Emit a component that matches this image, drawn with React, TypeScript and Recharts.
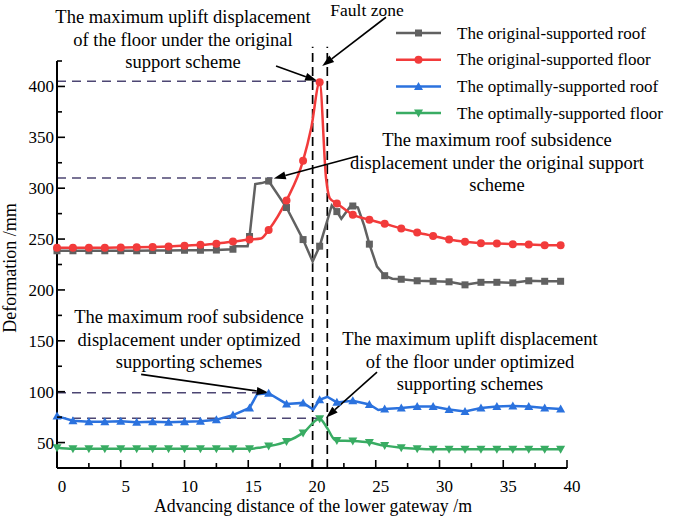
import React from 'react';
import { LineChart, Line, XAxis, YAxis, ReferenceLine } from 'recharts';

// ---------- data ----------
const markerX = [0, 1.25, 2.5, 3.75, 5, 6.25, 7.5, 8.75, 10, 11.25, 12.5, 13.8, 15.1, 16.6, 18.0, 19.3, 20.6, 21.95, 23.2, 24.5, 25.7, 27.0, 28.25, 29.5, 30.75, 32, 33.25, 34.5, 35.75, 37, 38.25, 39.5];

const origRoof = [238.5, 238.5, 238.5, 238.5, 238.5, 238.5, 238.7, 238.8, 239, 239, 239.2, 240, 252.5, 307, 281, 249.5, 243, 277, 282.5, 245, 214, 210.5, 209, 208.5, 208, 205, 207.5, 207.5, 207, 209, 208.5, 208.5];
const origRoofExtraX = [13.85, 14.95, 15.55, 16.05, 20.05, 21.55, 22.3, 23.0, 23.6, 24.1, 25.1, 26.3];
const origRoofExtraY = [243, 243, 304, 305, 228, 283, 270, 282, 281, 263, 223, 211];

const origFloor = [241.5, 241.5, 241.5, 241.5, 241.7, 242, 242.3, 242.8, 243.5, 244.3, 245.5, 247.5, 249.5, 259, 288, 327, 404, 285, 274, 269, 265, 260.5, 256.5, 253, 249.6, 247.3, 246, 245.6, 245, 244.6, 244, 244];
const origFloorExtraX = [16.0, 19.95, 21.1, 21.4];
const origFloorExtraY = [250.5, 360, 310, 290];

const optRoof = [76, 71.5, 70.5, 70.5, 71, 70, 70.5, 70, 70.5, 71, 72.5, 77, 84, 98.5, 88, 89, 92, 89.5, 91, 87.5, 83, 84, 85.5, 85.5, 82.5, 80.5, 84, 85.5, 86, 85.5, 84, 83];
const optRoofExtraX = [15.7, 20.1, 21.2, 25.2];
const optRoofExtraY = [97.5, 82.5, 95, 82];

const optFloor = [45, 44, 44, 44, 44, 44, 44, 44, 44, 44, 44, 44, 44, 46.5, 51, 59.5, 73.5, 52, 51.5, 50, 47, 45, 44, 43.5, 43.5, 43.5, 43.5, 43.5, 43.5, 43.5, 43.5, 43.5];
const optFloorExtraX = [15.9, 21.2, 21.75];
const optFloorExtraY = [45, 64, 53];

const seriesNames = [
  'The original-supported roof',
  'The original-supported floor',
  'The optimally-supported roof',
  'The optimally-supported floor',
];

const xTicks = [0, 2.5, 5, 7.5, 10, 12.5, 15, 17.5, 20, 22.5, 25, 27.5, 30, 32.5, 35, 37.5, 40];
const yTicks = [25, 50, 75, 100, 125, 150, 175, 200, 225, 250, 275, 300, 325, 350, 375, 400, 425];

// ---------- helpers ----------
function buildSeries(vals: number[], ex: number[], ey: number[]) {
  const pts = markerX.map((x, i) => ({ x, y: vals[i], m: true }));
  ex.forEach((x, i) => pts.push({ x, y: ey[i], m: false }));
  pts.sort((a, b) => a.x - b.x);
  return pts;
}

const COLORS = ['#616161', '#f23b3b', '#2b72de', '#39ac63'];
const SHAPES = ['square', 'circle', 'triUp', 'triDown'];

function marker(shape: string, cx: number, cy: number, color: string, key?: any) {
  switch (shape) {
    case 'square':
      return <rect key={key} x={cx - 3.5} y={cy - 3.5} width={7} height={7} fill={color} />;
    case 'circle':
      return <circle key={key} cx={cx} cy={cy} r={4} fill={color} />;
    case 'triUp':
      return <polygon key={key} points={`${cx},${cy - 4.5} ${cx - 4.5},${cy + 3.5} ${cx + 4.5},${cy + 3.5}`} fill={color} />;
    default:
      return <polygon key={key} points={`${cx},${cy + 4.5} ${cx - 4.5},${cy - 3.5} ${cx + 4.5},${cy - 3.5}`} fill={color} />;
  }
}

const makeDot = (shape: string, color: string) => (props: any) => {
  const { cx, cy, payload, index } = props;
  if (!payload || !payload.m || cx == null || cy == null) return <g key={`e${index}`} />;
  return marker(shape, cx, cy, color, `d${index}`);
};

const FONT = '"Liberation Serif", "Times New Roman", serif';

const XTick = (props: any) => {
  const { x, y, payload } = props;
  const v = payload.value;
  const major = v % 5 === 0;
  return (
    <g>
      <line x1={x} y1={y} x2={x} y2={y - (major ? 8 : 5)} stroke="#000" strokeWidth={1.6} />
      {major && (
        <text x={x + 5} y={y + 24} textAnchor="middle" fontFamily={FONT} fontSize={17} fill="#000">
          {v}
        </text>
      )}
    </g>
  );
};

const YTick = (props: any) => {
  const { x, y, payload } = props;
  const v = payload.value;
  const major = v % 50 === 0;
  return (
    <g>
      <line x1={x} y1={y} x2={x + (major ? 8 : 5)} y2={y} stroke="#000" strokeWidth={1.6} />
      {major && (
        <text x={x - 3} y={y + 6} textAnchor="end" fontFamily={FONT} fontSize={17} fill="#000">
          {v}
        </text>
      )}
    </g>
  );
};

const Arrow = (props: any) => {
  const { x1, y1, x2, y2 } = props;
  if ([x1, y1, x2, y2].some((v) => v == null || isNaN(v))) return <g />;
  const a = Math.atan2(y2 - y1, x2 - x1);
  const L = 12;
  const W = 4;
  const bx = x2 - L * Math.cos(a);
  const by = y2 - L * Math.sin(a);
  const px = W * Math.sin(a);
  const py = -W * Math.cos(a);
  return (
    <g>
      <line x1={x1} y1={y1} x2={bx} y2={by} stroke="#000" strokeWidth={1.6} />
      <polygon points={`${x2},${y2} ${bx + px},${by + py} ${bx - px},${by - py}`} fill="#000" />
    </g>
  );
};

const series = [
  buildSeries(origRoof, origRoofExtraX, origRoofExtraY),
  buildSeries(origFloor, origFloorExtraX, origFloorExtraY),
  buildSeries(optRoof, optRoofExtraX, optRoofExtraY),
  buildSeries(optFloor, optFloorExtraX, optFloorExtraY),
];
const curveTypes: any[] = ['linear', 'monotone', 'linear', 'monotone'];

// annotation guides (data coordinates)
const hGuides = [
  { y: 405, x2: 21.2 },
  { y: 310, x2: 16.9 },
  { y: 99, x2: 16.7 },
  { y: 74, x2: 21.0 },
];
const faultX = [20.05, 21.2];
const arrows = [
  { x1: 17.18, y1: 420.1, x2: 20.4, y2: 405.5 },
  { x1: 25.8, y1: 468, x2: 20.8, y2: 420 },
  { x1: 23.6, y1: 331.6, x2: 17.0, y2: 309.5 },
  { x1: 6.6, y1: 117, x2: 16.6, y2: 99 },
  { x1: 25.1, y1: 119.3, x2: 21.1, y2: 74.5 },
];

const annotations = [
  { cx: 183, y: 23, lines: ['The maximum uplift displacement', 'of the floor under the original', 'support scheme'] },
  { cx: 497, y: 146, lines: ['The maximum roof subsidence', 'displacement under the original support', 'scheme'] },
  { cx: 189, y: 323, lines: ['The maximum roof subsidence', 'displacement under optimized', 'supporting schemes'] },
  { cx: 470, y: 345, lines: ['The maximum uplift displacement', 'of the floor under optimized', 'supporting schemes'] },
];

export default function App() {
  return (
    <div style={{ position: 'absolute', left: 0, top: 0, width: 685, height: 518, background: '#fff' }}>
      <LineChart width={685} height={518} margin={{ top: 61, right: 118, bottom: 20, left: 7 }}>
        <XAxis
          type="number"
          dataKey="x"
          domain={[0, 40]}
          ticks={xTicks}
          interval={0}
          tickSize={0}
          tickMargin={0}
          tickLine={false}
          tick={<XTick />}
          height={30}
          axisLine={{ stroke: '#000', strokeWidth: 2 }}
        />
        <YAxis
          type="number"
          domain={[25, 425]}
          ticks={yTicks}
          interval={0}
          tickSize={0}
          tickMargin={0}
          tickLine={false}
          tick={<YTick />}
          width={50}
          axisLine={{ stroke: '#000', strokeWidth: 2 }}
        />
        {hGuides.map((g, i) => (
          <ReferenceLine
            key={`h${i}`}
            segment={[{ x: 0, y: g.y }, { x: g.x2, y: g.y }]}
            stroke="#4d4673"
            strokeWidth={1.5}
            strokeDasharray="9 6"
            ifOverflow="visible"
          />
        ))}
        {faultX.map((fx, i) => (
          <ReferenceLine
            key={`v${i}`}
            segment={[{ x: fx, y: 25 }, { x: fx, y: 439 }]}
            stroke="#000"
            strokeWidth={1.7}
            strokeDasharray="9 5"
            ifOverflow="visible"
          />
        ))}
        {series.map((d, i) => (
          <Line
            key={seriesNames[i]}
            data={d}
            dataKey="y"
            name={seriesNames[i]}
            type={curveTypes[i]}
            stroke={COLORS[i]}
            strokeWidth={2.5}
            dot={makeDot(SHAPES[i], COLORS[i])}
            activeDot={false}
            isAnimationActive={false}
          />
        ))}
        {arrows.map((a, i) => (
          <ReferenceLine
            key={`a${i}`}
            segment={[{ x: a.x1, y: a.y1 }, { x: a.x2, y: a.y2 }]}
            ifOverflow="visible"
            shape={(p: any) => <Arrow {...p} />}
          />
        ))}
      </LineChart>
      <svg
        width={685}
        height={518}
        style={{ position: 'absolute', left: 0, top: 0, pointerEvents: 'none' }}
        fontFamily={FONT}
        fontSize={17}
      >
        {annotations.map((a, i) => (
          <g key={i}>
            {a.lines.map((l, j) => (
              <text key={j} x={a.cx} y={a.y + j * 22.5} textAnchor="middle" fill="#000" fontSize={18.5}>
                {l}
              </text>
            ))}
          </g>
        ))}
        <text x={367} y={16} textAnchor="middle" fill="#000" fontSize={17.5}>Fault zone</text>
        {seriesNames.map((n, i) => {
          const y = 33 + i * 26.7;
          return (
            <g key={n}>
              <line x1={396} y1={y} x2={441} y2={y} stroke={COLORS[i]} strokeWidth={2.5} />
              {marker(SHAPES[i], 418.5, y, COLORS[i])}
              <text x={457} y={y + 5.5} fill="#000">{n}</text>
            </g>
          );
        })}
        <text x={313} y={512} textAnchor="middle" fill="#000" fontSize={17.8}>Advancing distance of the lower gateway /m</text>
        <text x={16} y={268} textAnchor="middle" fill="#000" fontSize={18} transform="rotate(-90 16 268)">Deformation /mm</text>
      </svg>
    </div>
  );
}
